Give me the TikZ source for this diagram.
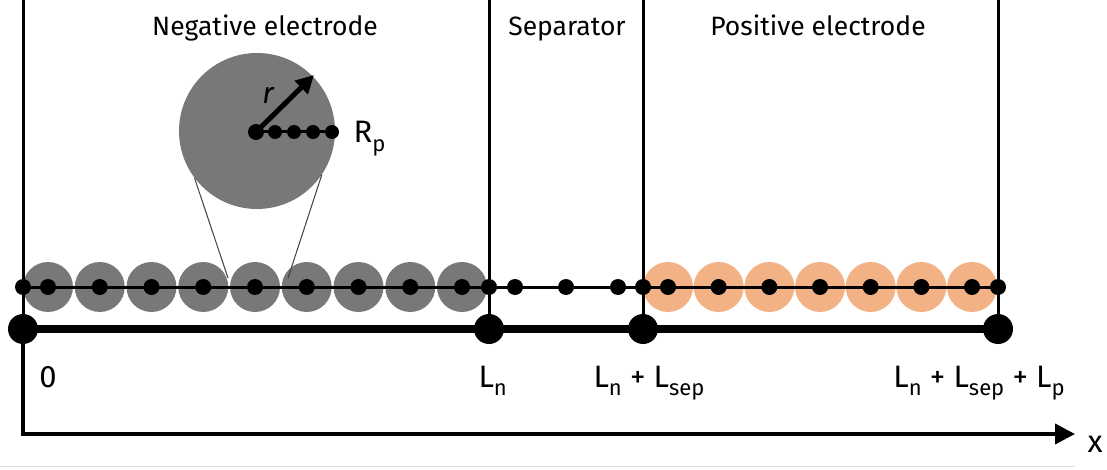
\documentclass[tikz,border=0pt]{standalone}
\usepackage{fontspec}
\setmainfont{Fira Sans}
\usetikzlibrary{arrows.meta}
\definecolor{anode}{RGB}{122,119,119}
\definecolor{cathode}{RGB}{243,178,134}
\newcommand{\sub}[1]{\raisebox{-0.26em}{\fontsize{22}{22}\selectfont #1}}
\begin{document}
\begin{tikzpicture}[x=1pt,y=-1pt,
  negpart/.style={circle,fill=anode,minimum size=50pt,inner sep=0pt},
  pospart/.style={circle,fill=cathode,minimum size=50pt,inner sep=0pt},
  smalldot/.style={circle,fill=black,minimum size=16pt,inner sep=0pt},
  raddot/.style={circle,fill=black,minimum size=14pt,inner sep=0pt},
  bigdot/.style={circle,fill=black,minimum size=30pt,inner sep=0pt},
  wall/.style={line width=3pt},
  grid line/.style={line width=3pt},
  thick line/.style={line width=8pt},
  toplabel/.style={font=\fontsize{26.5}{26.5}\selectfont,anchor=base},
  poslabel/.style={font=\fontsize{31}{31}\selectfont,anchor=base}]
\useasboundingbox (0,0) rectangle (1107,470);

% electrode particles
\foreach \i in {0,...,8} \node[negpart] (n\i) at ({48+51.75*\i},287) {};
\foreach \i in {0,...,6} \node[pospart] (p\i) at ({668+50.67*\i},287) {};

% magnified particle
\node[negpart,minimum size=156pt] (zoom) at (257,131) {};
\coordinate (coneL) at (228,278);
\coordinate (coneR) at (288,278);
\draw[line width=1pt,black!75] (zoom.217) -- (coneL);
\draw[line width=1pt,black!75] (zoom.326) -- (coneR);

% region walls and collector points
\node[bigdot] (b0) at (23,329) {};
\node[bigdot] (b1) at (489,329) {};
\node[bigdot] (b2) at (643,329) {};
\node[bigdot] (b3) at (998,329) {};
\coordinate (t0) at (23,0);
\coordinate (t1) at (489,0);
\coordinate (t2) at (643,0);
\coordinate (t3) at (998,0);
\draw[wall] (t0) -- (b0.center);
\draw[wall] (t1) -- (b1.center);
\draw[wall] (t2) -- (b2.center);
\draw[wall] (t3) -- (b3.center);
\draw[thick line] (b0.center) -- (b3.center);

% x axis
\coordinate (corner) at (23,434);
\coordinate (tip) at (1075,434);
\draw[line width=4pt,-{Triangle[length=20pt,width=20pt]}] (b0.center) -- (corner) -- (tip);
\node[anchor=base,font=\fontsize{31}{31}\selectfont] (xl) at (1095,452) {x};

% finite volume grid
\coordinate (g0) at (23,287);
\coordinate (g1) at (998,287);
\draw[grid line] (g0) -- (g1);
\foreach \x in {23,489,515,566,618,643,998}
  \node[smalldot] at (\x,287) {};
\foreach \i in {0,...,8} \node[smalldot] at (n\i) {};
\foreach \i in {0,...,6} \node[smalldot] at (p\i) {};

% radial grid
\node[raddot,minimum size=16pt] (r0) at (256,132) {};
\node[raddot] (r1) at (275,132) {};
\node[raddot] (r2) at (294,132) {};
\node[raddot] (r3) at (313,132) {};
\node[raddot] (r4) at (332,132) {};
\draw[line width=3pt] (r0) -- (r4);
\coordinate (rtip) at (314,75);
\draw[line width=5pt,-{Triangle[length=18pt,width=18pt]}] (r0.center) -- (rtip);
\node[font=\fontsize{30}{30}\selectfont\itshape] (rl) at (268,95) {r};
\node[anchor=base west,font=\fontsize{31}{31}\selectfont] (rp) at (350,143) {R\sub{p}};

% region titles
\node[toplabel] (neg) at (265,36) {Negative electrode};
\node[toplabel] (sep) at (567,36) {Separator};
\node[toplabel] (pos) at (818,36) {Positive electrode};

% positions
\node[poslabel] (x0) at (48,387) {0};
\node[poslabel,anchor=base west] (x1) at (475,387) {L\sub{n}};
\node[poslabel] (x2) at (649,387) {L\sub{n} + L\sub{sep}};
\node[poslabel] (x3) at (979,387) {L\sub{n} + L\sub{sep} + L\sub{p}};

% lower rule
\coordinate (f0) at (0,466);
\coordinate (f1) at (1075,466);
\draw[line width=1pt,black!12] (f0) -- (f1);
\end{tikzpicture}
\end{document}
